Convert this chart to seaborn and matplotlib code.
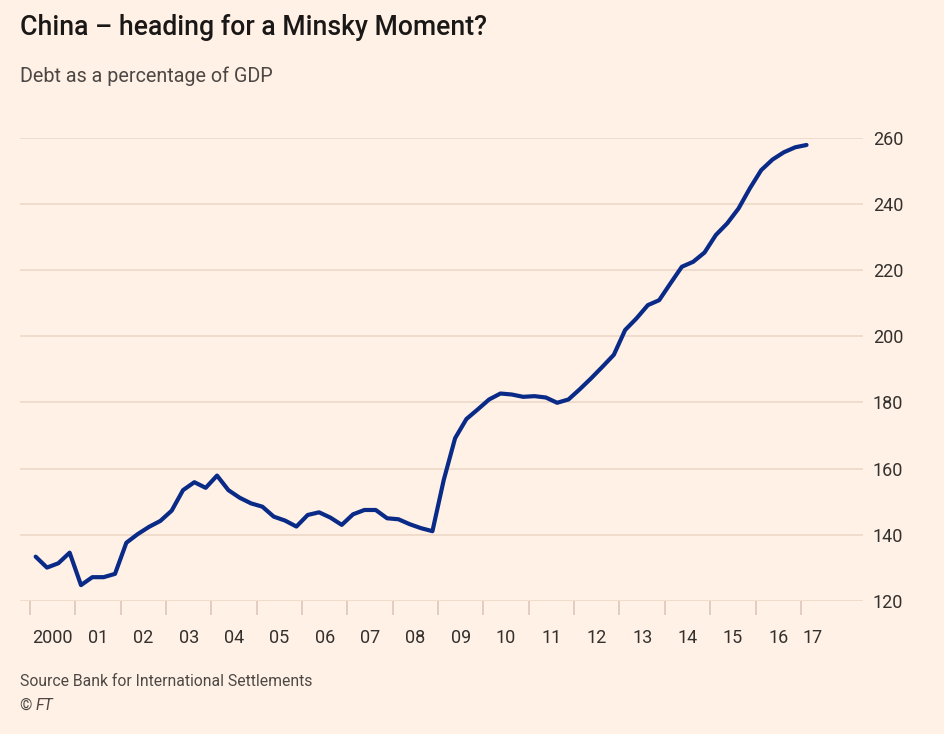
import matplotlib
matplotlib.use("Agg")
import matplotlib.pyplot as plt
import seaborn as sns
import numpy as np
import pandas as pd

# ---- data ----
title = "China \u2013 heading for a Minsky Moment?"
subtitle = "Debt as a percentage of GDP"
source = "Source Bank for International Settlements"
credit_mark = "\u00a9"
credit_name = "FT"

quarters = pd.period_range("2000Q1", "2017Q1", freq="Q")
debt_pct_gdp = [
    133.4, 130.1, 131.4, 134.6,   # 2000
    124.8, 127.2, 127.2, 128.2,   # 2001
    137.6, 140.2, 142.4, 144.2,   # 2002
    147.3, 153.5, 155.9, 154.2,   # 2003
    157.9, 153.5, 151.2, 149.5,   # 2004
    148.5, 145.5, 144.3, 142.5,   # 2005
    146.0, 146.8, 145.2, 143.0,   # 2006
    146.2, 147.5, 147.5, 145.0,   # 2007
    144.7, 143.2, 142.0, 141.1,   # 2008
    156.6, 169.2, 175.0, 177.9,   # 2009
    180.9, 182.7, 182.4, 181.7,   # 2010
    181.9, 181.5, 179.9, 180.9,   # 2011
    184.0, 187.3, 190.8, 194.4,   # 2012
    201.9, 205.4, 209.4, 210.9,   # 2013
    216.0, 221.0, 222.5, 225.3,   # 2014
    230.6, 234.1, 238.6, 244.7,   # 2015
    250.2, 253.4, 255.6, 257.1,   # 2016
    257.8,                        # 2017
]
years = list(range(2000, 2018))
year_labels = ["2000", "01", "02", "03", "04", "05", "06", "07", "08", "09",
               "10", "11", "12", "13", "14", "15", "16", "17"]
y_ticks = [120, 140, 160, 180, 200, 220, 240, 260]

# ---- styling ----
BG = "#FFF1E5"
GRID = "#EED8C8"
TICK = "#DCC8BA"
LINE = "#0A2A88"
TXT = "#33302E"

sns.set_theme(style="white")
plt.rcParams["font.family"] = ["Roboto", "DejaVu Sans"]

df = pd.DataFrame({
    "t": [p.year + (p.quarter - 0.5) / 4 for p in quarters],
    "value": debt_pct_gdp,
})

fig = plt.figure(figsize=(9.45, 7.34), dpi=100, facecolor=BG)
ax = fig.add_axes([20 / 945, 1 - 601 / 734, (863 - 20) / 945, (601 - 137.7) / 734])
ax.set_facecolor(BG)

for v in y_ticks:
    ax.axhline(v, color=GRID, lw=1.2, zorder=0)

sns.lineplot(data=df, x="t", y="value", ax=ax, color=LINE, lw=3.0,
             solid_joinstyle="round", solid_capstyle="round", zorder=3)

ax.set_xlim(1999.78, 2018.37)
ax.set_ylim(120, 260)
for s in ax.spines.values():
    s.set_visible(False)

# y axis on the right
ax.yaxis.tick_right()
ax.set_yticks(y_ticks)
ax.set_yticklabels([str(v) for v in y_ticks])
ax.tick_params(axis="y", length=0, pad=7, labelsize=13, labelcolor=TXT)

# x axis: ticks at year boundaries, labels at mid-year
ax.set_xticks(years)
ax.set_xticklabels([])
ax.tick_params(axis="x", which="major", length=10, width=1.2, color=TICK, direction="out",
               bottom=True)
label_pos = [y + 0.5 for y in years[:-1]] + [years[-1] + 0.25]
ax.set_xticks(label_pos, minor=True)
ax.set_xticklabels(year_labels, minor=True)
ax.tick_params(axis="x", which="minor", length=0, pad=20, labelsize=13, labelcolor=TXT,
               bottom=True)
ax.set_xlabel("")
ax.set_ylabel("")

fig.text(20 / 945, 1 - 35 / 734, title, fontsize=19.2, fontweight="medium",
         color="#1A1817", va="baseline", ha="left")
fig.text(20 / 945, 1 - 81.5 / 734, subtitle, fontsize=14.2, color="#4D4845",
         va="baseline", ha="left")
fig.text(20 / 945, 1 - 686.5 / 734, source, fontsize=11.3, color="#4D4845",
         va="baseline", ha="left")
fig.text(19 / 945, 1 - 710 / 734, credit_mark, fontsize=11.3, color="#4D4845",
         va="baseline", ha="left")
fig.text(36 / 945, 1 - 710 / 734, credit_name, fontsize=11.3, color="#4D4845",
         va="baseline", ha="left", style="italic")

fig.savefig("out.png", dpi=100, facecolor=BG)
